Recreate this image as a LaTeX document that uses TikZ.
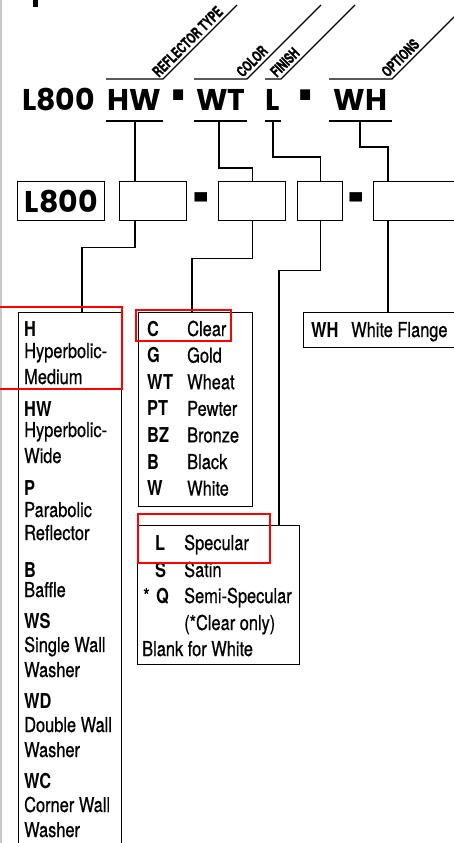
\documentclass[tikz,border=0pt]{standalone}
\usepackage{fontspec}
\setmainfont{TeX Gyre Heros}[FakeStretch=0.8,UprightFeatures={FakeBold=0.6}]
\newfontfamily\partfont{Poppins}
\newfontfamily\fieldfont{TeX Gyre Heros}[FakeStretch=0.68,FakeBold=1.2]
\usetikzlibrary{calc}
\definecolor{Hilite}{HTML}{FF0000}
\definecolor{Edge}{HTML}{C8C8C8}
\newcommand\thickdash{\raisebox{-12pt}{\scalebox{0.75}[2.5]{-}}}
\newcommand\widedash{\raisebox{-10pt}{\scalebox{0.95}[2.2]{-}}}

\tikzset{
  wire/.style={line width=1.3pt},
  slotbox/.style={draw,line width=1.4pt,anchor=north west,inner sep=0pt,minimum height=39pt},
  partlbl/.style={anchor=base,inner sep=0pt,font=\partfont\fontsize{30}{30}\selectfont\bfseries},
  fieldlbl/.style={rotate=45,anchor=south west,inner sep=0.5pt,font=\fieldfont\fontsize{15}{15}\selectfont\bfseries},
  keytxt/.style={anchor=base west,inner sep=0pt,font=\fontsize{20.5}{25}\selectfont\bfseries},
  desctxt/.style={anchor=base west,inner sep=0pt,font=\fontsize{20.5}{25}\selectfont},
  hilite/.style={draw=Hilite,line width=2pt}
}

\begin{document}
\begin{tikzpicture}[x=1pt,y=-1pt]
\useasboundingbox (0,0) rectangle (454,843);
\clip (0,0) rectangle (454,843);

% page edge
\draw[Edge,line width=1.2pt] (1,0) -- (1,843);
\fill (33,0) rectangle (38,7);

% catalog number
\node[partlbl] (mL800) at (58.5,110) {L800};
\node[partlbl] (mHW) at (134.5,110) {HW};
\node[partlbl] (mD1) at (179,110) {\thickdash};
\node[partlbl] (mWT) at (221,110) {WT};
\node[partlbl] (mL) at (273,110) {L};
\node[partlbl] (mD2) at (306,110) {\thickdash};
\node[partlbl] (mWH) at (360.5,110) {WH};

\foreach \a/\b/\m/\t/\n in {106/163/135/REFLECTOR TYPE/HW,194/247/219/COLOR/WT,265/281/273/FINISH/L,329/392/360/OPTIONS/WH}{
  \draw[wire] (\a,79) -- (\b,79) -- ++(74,-74);
  \node[fieldlbl] (f\n) at (\b-4,79) {\t};
  \draw[wire] (\a,121) -- (\b,121);
  \coordinate (u\n) at (\m,121);
}

% blank slots
\node[slotbox,minimum width=87pt] (sL800) at (17,181) {\partfont\fontsize{30}{30}\selectfont\bfseries L800};
\node[slotbox,minimum width=67pt] (sHW) at (119,181) {};
\node[slotbox,minimum width=67pt] (sWT) at (218,181) {};
\node[slotbox,minimum width=45pt] (sL) at (297,181) {};
\node[slotbox,minimum width=100pt] (sWH) at (373,181) {};
\node[partlbl] (sD1) at (201.5,210) {\widedash};
\node[partlbl] (sD2) at (357,210) {\widedash};

\draw[wire] (uHW) -- (uHW |- sHW.north);
\draw[wire] (uWT) -- ++(0,47) -| (sWT.north);
\draw[wire] (uL) -- ++(0,36) -| (sL.north);
\draw[wire] (uWH) -- ++(0,26) -| ([xshift=15pt]sWH.north west);

% option lists
\node[slotbox,minimum width=103pt,minimum height=548pt] (lRefl) at (18,312) {};
\node[slotbox,minimum width=114pt,minimum height=194pt] (lColor) at (138,312) {};
\node[slotbox,minimum width=162pt,minimum height=139pt] (lFin) at (137,525) {};
\node[slotbox,minimum width=170pt,minimum height=35pt] (lOpt) at (303,312) {};

\draw[wire] (sHW.south -| uHW) -- ++(0,26) -| ([xshift=64pt]lRefl.north west);
\draw[wire] (sWT.south) -- ++(0,37) -| ([xshift=54pt]lColor.north west);
\draw[wire] (sL.south) -- ++(0,49) -| ([xshift=142pt]lFin.north west);
\draw[wire] ([xshift=15pt]sWH.south west) -- ([xshift=85pt]lOpt.north west);

\foreach \y/\t [count=\i] in {336/\bfseries H,358/Hyperbolic-,384/Medium,416/\bfseries HW,437/Hyperbolic-,463/Wide,
    495/\bfseries P,517/Parabolic,540/Reflector,577/\bfseries B,597/Baffle,628/\bfseries WS,652/Single Wall,677/Washer,
    708/\bfseries WD,732/Double Wall,757/Washer,788/\bfseries WC,812/Corner Wall,837/Washer}
  \node[desctxt] (r\i) at (24,\y) {\t};

\foreach \k/\d [count=\i from 0] in {C/Clear,G/Gold,WT/Wheat,PT/Pewter,BZ/Bronze,B/Black,W/White}{
  \node[keytxt] (k\k) at (147,336+26.6*\i) {\k};
  \node[desctxt] (d\k) at (187,336+26.6*\i) {\d};
}

\node[keytxt] (fnL) at (155,550) {L};
\node[desctxt] (fnLd) at (184,550) {Specular};
\node[keytxt] (fnS) at (155,577) {S};
\node[desctxt] (fnSd) at (184,577) {Satin};
\node[desctxt] (fnStar) at (143,603) {*};
\node[keytxt] (fnQ) at (156,603) {Q};
\node[desctxt] (fnQd) at (184,603) {Semi-Specular};
\node[desctxt] (fnNote) at (184,630) {(*Clear only)};
\node[desctxt] (fnBlank) at (142,656) {Blank for White};

\node[keytxt] (oWH) at (311,337) {WH};
\node[desctxt] (oWHd) at (351,337) {White Flange};

% highlights
\draw[hilite] (-5,307) rectangle (122,389);
\draw[hilite] (136,310) rectangle (231,341);
\draw[hilite] (138,514) rectangle (270,563);
\end{tikzpicture}
\end{document}
